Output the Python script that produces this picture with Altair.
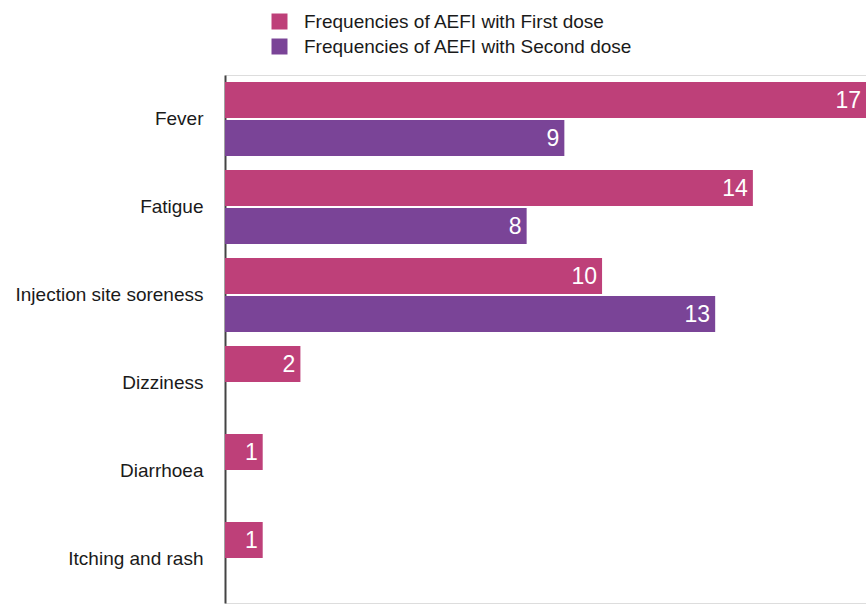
import altair as alt
import pandas as pd

# Adverse events following immunization, counts per dose
events = ["Fever", "Fatigue", "Injection site soreness", "Dizziness", "Diarrhoea", "Itching and rash"]
first_dose = [17, 14, 10, 2, 1, 1]
second_dose = [9, 8, 13, None, None, None]
series = ["Frequencies of AEFI with First dose", "Frequencies of AEFI with Second dose"]
colors = ["#BE4079", "#7A4497"]

rows = []
for ev, a, b in zip(events, first_dose, second_dose):
    for name, v in zip(series, (a, b)):
        if v is not None:
            rows.append({"event": ev, "dose": name, "count": v})
df = pd.DataFrame(rows)

FONT = "Liberation Sans"

y_enc = alt.Y(
    "event:N",
    sort=events,
    title=None,
    scale=alt.Scale(paddingInner=0, paddingOuter=0),
    axis=alt.Axis(
        ticks=False,
        grid=False,
        domain=True,
        domainColor="#444444",
        domainWidth=2,
        labelFont=FONT,
        labelFontSize=19,
        labelColor="#1a1a1a",
        labelPadding=22,
        labelLimit=300,
    ),
)
y_off = alt.YOffset(
    "dose:N",
    sort=series,
    scale=alt.Scale(domain=series, paddingInner=0.0526, paddingOuter=0.184),
)
x_enc = alt.X("count:Q", axis=None, scale=alt.Scale(domain=[0, 17], nice=False, zero=True))

bars = alt.Chart(df).mark_bar().encode(
    x=x_enc,
    y=y_enc,
    yOffset=y_off,
    color=alt.Color(
        "dose:N",
        sort=series,
        scale=alt.Scale(domain=series, range=colors),
        legend=alt.Legend(
            title=None,
            orient="none",
            legendX=45,
            legendY=-63,
            symbolType="square",
            symbolSize=256,
            symbolStrokeWidth=0,
            labelFont=FONT,
            labelFontSize=19,
            labelColor="#1a1a1a",
            labelOffset=15,
            rowPadding=5,
            padding=0,
            labelLimit=500,
        ),
    ),
)

labels = alt.Chart(df).mark_text(
    align="right", baseline="middle", dx=-5, dy=1, color="white", font=FONT, fontSize=23
).encode(
    x=x_enc,
    y=alt.Y("event:N", sort=events),
    yOffset=y_off,
    text="count:Q",
)

chart = (
    alt.layer(bars, labels)
    .properties(
        width=641,
        height=528,
        autosize=alt.AutoSizeParams(type="none"),
        padding={"left": 225, "top": 75, "right": 0, "bottom": 1},
    )
    .configure_view(stroke=None)
    .configure(background="white")
)

chart.save("out.html", embed_options={"renderer": "svg", "actions": False})
